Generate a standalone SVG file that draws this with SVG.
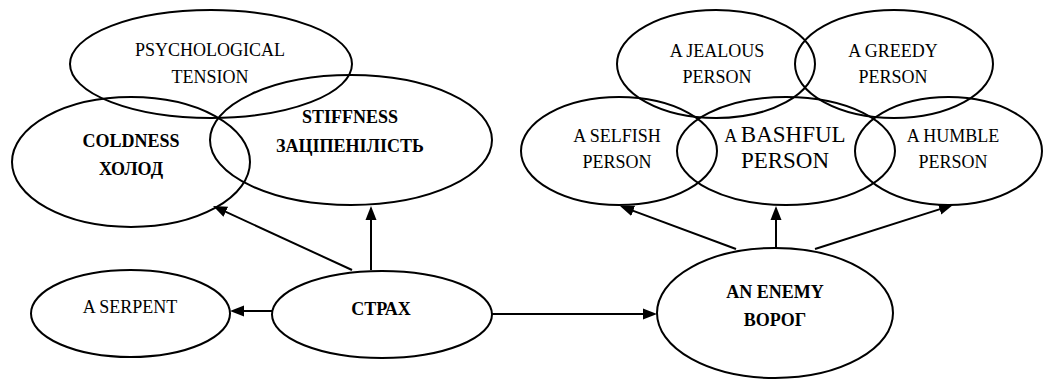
<svg xmlns="http://www.w3.org/2000/svg" width="1057" height="379" viewBox="0 0 1057 379">
<style>
.n{fill:none;stroke:#000;stroke-width:2}
.t{font-family:"Liberation Serif","Times New Roman",serif;font-size:18px;fill:#000;text-anchor:middle}
.b{font-weight:bold}
.big{font-size:23px}
.c{fill:none;stroke:#000;stroke-width:2}
</style>
<defs>
<marker id="ah" markerUnits="userSpaceOnUse" markerWidth="14" markerHeight="12" refX="7" refY="6" orient="auto">
<path d="M0,0.5 L14,6 L0,11.5 z" fill="#000"/>
</marker>
</defs>
<rect width="1057" height="379" fill="#fff"/>
<g id="connectors">
<line class="c" x1="272" y1="311" x2="237" y2="311" marker-end="url(#ah)"/>
<line class="c" x1="352" y1="270" x2="219.4" y2="208.9" marker-end="url(#ah)"/>
<line class="c" x1="371" y1="270" x2="371" y2="213" marker-end="url(#ah)"/>
<line class="c" x1="492" y1="314" x2="650" y2="314" marker-end="url(#ah)"/>
<line class="c" x1="736" y1="249" x2="626.6" y2="208.4" marker-end="url(#ah)"/>
<line class="c" x1="776" y1="249" x2="776" y2="213" marker-end="url(#ah)"/>
<line class="c" x1="815" y1="249" x2="946.3" y2="207.1" marker-end="url(#ah)"/>
</g>
<g id="psych">
<ellipse class="n" cx="211" cy="64" rx="141" ry="54"/>
<text class="t" x="210" y="56">PSYCHOLOGICAL</text>
<text class="t" x="210" y="83">TENSION</text>
</g>
<g id="coldness">
<ellipse class="n" cx="131" cy="162" rx="119" ry="65"/>
<text class="t b" x="131" y="147">COLDNESS</text>
<text class="t b" x="131" y="175">ХОЛОД</text>
</g>
<g id="stiffness">
<ellipse class="n" cx="351" cy="140" rx="141" ry="65"/>
<text class="t b" x="350" y="123">STIFFNESS</text>
<text class="t b" x="350" y="152">ЗАЦІПЕНІЛІСТЬ</text>
</g>
<g id="serpent">
<ellipse class="n" cx="130.5" cy="313.5" rx="99.5" ry="43.5"/>
<text class="t" x="130" y="313">A SERPENT</text>
</g>
<g id="strakh">
<ellipse class="n" cx="382" cy="314.5" rx="110" ry="43.5"/>
<text class="t b" x="381" y="315">СТРАХ</text>
</g>
<g id="jealous">
<ellipse class="n" cx="716" cy="64" rx="99" ry="54"/>
<text class="t" x="717" y="57">A JEALOUS</text>
<text class="t" x="717" y="83">PERSON</text>
</g>
<g id="greedy">
<ellipse class="n" cx="894" cy="64" rx="99" ry="54"/>
<text class="t" x="893" y="57">A GREEDY</text>
<text class="t" x="893" y="83">PERSON</text>
</g>
<g id="selfish">
<ellipse class="n" cx="619" cy="151" rx="98" ry="54"/>
<text class="t" x="617" y="142">A SELFISH</text>
<text class="t" x="617" y="168">PERSON</text>
</g>
<g id="bashful">
<ellipse class="n" cx="786" cy="151" rx="109" ry="54"/>
<text class="t" x="785" y="142">A <tspan class="big">BASHFUL</tspan></text>
<text class="t big" x="785" y="168">PERSON</text>
</g>
<g id="humble">
<ellipse class="n" cx="948.5" cy="151" rx="93.5" ry="54"/>
<text class="t" x="953" y="142">A HUMBLE</text>
<text class="t" x="953" y="168">PERSON</text>
</g>
<g id="enemy">
<ellipse class="n" cx="775" cy="313" rx="118" ry="65"/>
<text class="t b" x="775" y="298">AN ENEMY</text>
<text class="t b" x="775" y="326">ВОРОГ</text>
</g>
</svg>
